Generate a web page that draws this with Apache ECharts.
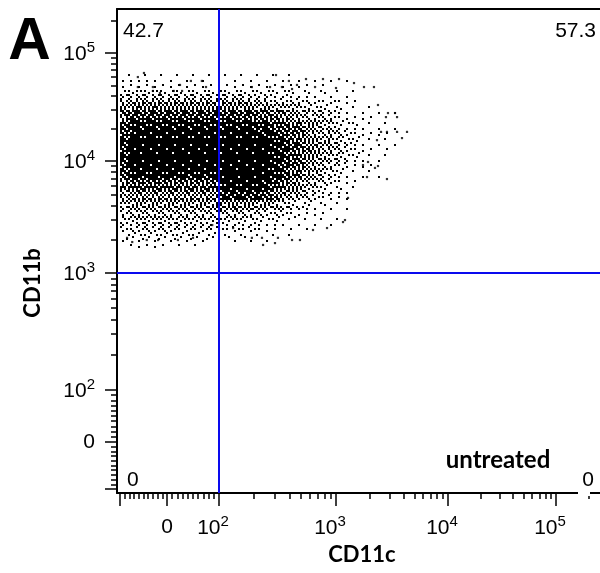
<!DOCTYPE html>
<html><head><meta charset="utf-8">
<script src="https://cdn.jsdelivr.net/npm/echarts@6/dist/echarts.min.js"></script>
<style>html,body{margin:0;padding:0;background:#fff}#c{width:600px;height:573px}</style>
</head><body><div id="c"></div>
<script>
// ---------- DATA ----------
const panelLetter = 'A';
const sampleLabel = 'untreated';
const xTitle = 'CD11c';
const yTitle = 'CD11b';
const quadrantPercents = ['42.7', '57.3', '0', '0']; // UL, UR, LL, LR
const gateCD11c = 100;
const gateCD11b = 1000;

// sparse individual events (raw intensities)
const cd11cEvents = [-62,-49,-62,-30,-30,-15,13,25,29,46,67,75,191,307,554,774,1064,396,273,345,464,421,662,1000,1448,1778,2183,2371,2911,2793,3365,3508,3508,3884,4306,2524,2851,2322,2851,2371,2229,1931,1742,1892,1280,1203,1155,838,636,492,421,319,301,238,-85,-74,-43,-19,21,50,87,132,191,233];
const cd11bEvents = [59900,65300,48400,48400,44500,42600,44500,50600,44500,55100,55100,48400,48400,62500,57400,57400,57400,55100,48400,48400,50600,46400,48400,47400,52700,48400,48400,33000,27800,25500,27800,25500,18600,16300,18600,18600,18600,15600,6900,9020,8670,9800,9200,7190,4680,2970,2850,2520,2420,1970,1970,2060,1850,1780,2060,1890,1970,1970,1970,2060,2680,2520,2060,2060];

// event density (fraction of area covered by events) on display-channel bins
const densityCD11cChannels = [-42,-32,-22,-12,-2,8,18,28,38,48,58,68,78,88,98,108,118,128,138,148,158,168,178,188,198,208,218,228,238];
const densityCD11bChannels = [367,357,347,337,327,317,307,297,287,277,267,257,247,237,227,217,207,197];
const densityRows = [
 [.03,.04,.04,.04,.03,.03,.03,.03,.03,.03,.03,.03,.03,.03,.03,.03,.03,.03,.02,.02,.01,0,0,0,0,0,0,0,0],
 [.08,.1,.1,.1,.08,.08,.08,.08,.08,.08,.08,.08,.08,.08,.08,.07,.07,.06,.05,.04,.04,.03,.02,0,0,0,0,0,0],
 [.25,.3,.3,.3,.28,.28,.28,.28,.28,.28,.28,.28,.26,.24,.22,.2,.18,.15,.12,.1,.08,.06,.04,.03,0,0,0,0,0],
 [.45,.55,.55,.55,.52,.52,.52,.52,.52,.52,.52,.5,.48,.45,.42,.38,.34,.3,.25,.2,.16,.12,.08,.05,.04,.03,.02,0,0],
 [.6,.72,.72,.72,.72,.72,.72,.72,.72,.72,.72,.72,.7,.66,.62,.58,.52,.45,.38,.3,.25,.18,.12,.08,.06,.04,.03,.02,0],
 [.7,.85,.85,.85,.85,.85,.85,.85,.85,.85,.85,.85,.85,.82,.78,.72,.66,.58,.48,.4,.32,.24,.17,.11,.08,.05,.04,.03,.02],
 [.75,.9,.92,.92,.92,.92,.92,.92,.92,.92,.92,.92,.92,.9,.87,.82,.75,.65,.55,.45,.38,.28,.2,.13,.09,.06,.05,.03,.02],
 [.78,.95,.95,.95,.95,.95,.95,.95,.95,.95,.95,.95,.95,.95,.93,.88,.8,.7,.58,.48,.4,.3,.22,.15,.1,.06,.04,.02,0],
 [.78,.95,.95,.95,.95,.95,.95,.95,.95,.95,.96,.96,.96,.96,.94,.88,.8,.7,.58,.48,.38,.28,.2,.13,.08,.05,.03,.01,0],
 [.76,.93,.95,.95,.95,.95,.95,.95,.95,.95,.96,.96,.96,.96,.94,.88,.78,.66,.54,.43,.33,.24,.16,.1,.06,.04,.02,0,0],
 [.68,.85,.88,.88,.88,.86,.85,.85,.85,.88,.95,.96,.96,.95,.92,.84,.74,.6,.48,.38,.28,.2,.13,.07,.04,.02,0,0,0],
 [.55,.68,.68,.68,.68,.66,.66,.66,.66,.7,.9,.92,.92,.9,.85,.75,.62,.48,.38,.3,.22,.15,.09,.05,.02,0,0,0,0],
 [.42,.52,.52,.52,.52,.5,.5,.5,.5,.55,.78,.82,.82,.76,.68,.56,.45,.36,.28,.21,.15,.1,.06,.03,0,0,0,0,0],
 [.33,.42,.42,.42,.42,.4,.4,.4,.4,.4,.5,.52,.5,.45,.4,.34,.28,.22,.16,.12,.08,.05,.03,0,0,0,0,0,0],
 [.26,.33,.33,.33,.33,.32,.32,.32,.3,.3,.3,.3,.28,.25,.22,.2,.16,.13,.1,.07,.05,.03,.02,0,0,0,0,0,0],
 [.2,.26,.26,.26,.26,.25,.25,.24,.22,.2,.18,.18,.16,.14,.12,.1,.08,.06,.05,.04,.03,.02,0,0,0,0,0,0,0],
 [.14,.18,.18,.18,.18,.17,.17,.16,.14,.12,.1,.1,.09,.07,.06,.05,.04,.03,.02,.01,0,0,0,0,0,0,0,0,0],
 [.04,.06,.06,.06,.06,.05,.05,.04,.03,.03,.02,.02,.02,.02,.01,0,0,0,0,0,0,0,0,0,0,0,0,0,0]
];

// axis ticks (raw values)
const majorTicks = [-100, 0, 100, 1000, 10000, 100000];
const labelledTicks = [0, 100, 1000, 10000, 100000];
const minorTicks = [-90,-80,-70,-60,-50,-40,-30,-20,-10,10,20,30,40,50,60,70,80,90,
  200,300,400,500,600,700,800,900,2000,3000,4000,5000,6000,7000,8000,9000,
  20000,30000,40000,50000,60000,70000,80000,90000,200000];

// ---------- biexponential display scale ----------
const logAnchors = [[2,52],[3,169],[4,281],[5,389],[6,497]];
function T(v){
  if (v <= 0) return v * 0.47;
  if (v <= 100) return v * 0.52;
  const l = Math.log10(v);
  for (let i = 0; i < logAnchors.length - 1; i++){
    const a = logAnchors[i], b = logAnchors[i+1];
    if (l <= b[0]) return a[1] + (l - a[0]) * (b[1] - a[1]) / (b[0] - a[0]);
  }
  return logAnchors[logAnchors.length-1][1];
}
const X_MIN = -50, X_MAX = 433, Y_MIN = -51, Y_MAX = 433;

function labelFmt(val){
  let best = null, bd = 1e9;
  labelledTicks.forEach(t => { const d = Math.abs(T(t) - val); if (d < bd){ bd = d; best = t; } });
  if (best === 0) return '{z|0}';
  return '{b|10}{s|' + Math.round(Math.log10(best)) + '}';
}
const FONT = '"Liberation Sans", Arial, sans-serif';
const rich = {
  z: {fontSize: 21, fontFamily: FONT, color: '#000', lineHeight: 24},
  b: {fontSize: 21, fontFamily: FONT, color: '#000', verticalAlign: 'bottom', lineHeight: 24},
  s: {fontSize: 15, fontFamily: FONT, color: '#000', verticalAlign: 'bottom', lineHeight: 24, padding: [0, 0, 10, 0]}
};
const richX = Object.assign({}, rich, {s: Object.assign({}, rich.s, {padding: [0, 12, 10, 0]})});

function baseAxis(min, max, pos){
  return {type: 'value', min: min, max: max, position: pos, scale: true,
    splitLine: {show: false},
    axisLine: {show: false, onZero: false},
    axisTick: {show: false},
    axisLabel: {show: false}};
}

const xMajor = baseAxis(X_MIN, X_MAX, 'bottom');
xMajor.axisLine = {show: true, onZero: false, lineStyle: {color: '#000', width: 2}};
xMajor.axisTick = {show: true, customValues: majorTicks.map(T), length: 13, lineStyle: {color: '#000', width: 1.5}};
xMajor.axisLabel = {show: true, customValues: labelledTicks.map(T), formatter: labelFmt, margin: 22,
  fontSize: 21, fontFamily: FONT, rich: richX, color: '#000'};
const xMinor = baseAxis(X_MIN, X_MAX, 'bottom');
xMinor.axisTick = {show: true, customValues: minorTicks.map(T), length: 6, lineStyle: {color: '#000', width: 1.5}};
const xTop = baseAxis(X_MIN, X_MAX, 'top');
xTop.axisLine = {show: true, onZero: false, lineStyle: {color: '#000', width: 2}};

const yMajor = baseAxis(Y_MIN, Y_MAX, 'left');
yMajor.axisLine = {show: true, onZero: false, lineStyle: {color: '#000', width: 2}};
yMajor.axisTick = {show: true, customValues: majorTicks.map(T), length: 12, lineStyle: {color: '#000', width: 1.5}};
yMajor.axisLabel = {show: true, customValues: labelledTicks.map(T), formatter: labelFmt, margin: 22,
  fontSize: 21, fontFamily: FONT, rich: rich, color: '#000'};
const yMinor = baseAxis(Y_MIN, Y_MAX, 'left');
yMinor.axisTick = {show: true, customValues: minorTicks.map(T), length: 6, lineStyle: {color: '#000', width: 1.5}};

// ---------- stipple fill (style): threshold matrix for 2px event dots ----------
const STIPPLE = [
 [37,5,52,19,44,0,28,61],
 [13,58,26,40,9,55,17,33],
 [48,2,35,63,22,38,50,6],
 [24,45,11,30,57,3,42,29],
 [60,16,53,7,47,14,62,20],
 [1,39,27,43,18,34,10,51],
 [32,56,4,59,25,49,23,41],
 [15,46,21,36,12,31,54,8]
];
const patternCache = {};
function stipplePattern(d){
  const k = Math.max(0, Math.min(64, Math.round(d * 64)));
  if (patternCache[k]) return patternCache[k];
  const cv = document.createElement('canvas');
  cv.width = 16; cv.height = 16;
  const ctx = cv.getContext('2d');
  ctx.fillStyle = '#000';
  for (let i = 0; i < 8; i++) for (let j = 0; j < 8; j++) {
    if (STIPPLE[i][j] < k) ctx.fillRect(j * 2, i * 2, 2, 2);
  }
  patternCache[k] = {image: cv, repeat: 'repeat'};
  return patternCache[k];
}

// ---------- series data ----------
const densityData = [];
densityRows.forEach((row, r) => row.forEach((d, c) => {
  if (d > 0) densityData.push([densityCD11cChannels[c], densityCD11bChannels[r], d]);
}));
const eventData = cd11cEvents.map((v, i) => [T(v), T(cd11bEvents[i])]);

const chart = echarts.init(document.getElementById('c'), null, {renderer: 'canvas'});
chart.setOption({
  animation: false,
  backgroundColor: '#fff',
  grid: {left: 117, right: 0, top: 9, bottom: 80, containLabel: false},
  xAxis: [xMajor, xMinor, xTop],
  yAxis: [yMajor, yMinor],
  series: [
    {
      type: 'custom', xAxisIndex: 0, yAxisIndex: 0, clip: true, silent: true,
      data: densityData,
      renderItem: function(params, api){
        const x = api.value(0), y = api.value(1), d = api.value(2);
        const p0 = api.coord([x - 5, y + 5]);
        const p1 = api.coord([x + 5, y - 5]);
        return {type: 'rect', shape: {x: Math.round(p0[0]), y: Math.round(p0[1]),
            width: Math.round(p1[0]) - Math.round(p0[0]), height: Math.round(p1[1]) - Math.round(p0[1])},
          style: {fill: stipplePattern(d)}};
      }
    },
    {
      type: 'scatter', xAxisIndex: 0, yAxisIndex: 0, silent: true,
      symbol: 'rect', symbolSize: 2.2,
      itemStyle: {color: '#000'},
      data: eventData,
      markLine: {
        silent: true, symbol: 'none', animation: false,
        label: {show: false},
        lineStyle: {color: '#0a0aee', width: 2, type: 'solid'},
        data: [{xAxis: T(gateCD11c)}, {yAxis: T(gateCD11b)}]
      }
    }
  ],
  graphic: [
    {type: 'text', x: 29, y: 42, scaleX: 0.98, originX: 29, style: {text: panelLetter, font: 'bold 60px ' + FONT, fill: '#000', align: 'center', verticalAlign: 'middle'}},
    {type: 'text', x: 123, y: 31, style: {text: quadrantPercents[0], font: '21px ' + FONT, fill: '#000', align: 'left', verticalAlign: 'middle'}},
    {type: 'text', x: 596, y: 31, style: {text: quadrantPercents[1], font: '21px ' + FONT, fill: '#000', align: 'right', verticalAlign: 'middle'}},
    {type: 'text', x: 127, y: 480, style: {text: quadrantPercents[2], font: '21px ' + FONT, fill: '#000', align: 'left', verticalAlign: 'middle'}},
    {type: 'rect', shape: {x: 578, y: 488, width: 12, height: 8}, style: {fill: '#fff'}, z: 100},
    {type: 'text', x: 594, y: 480, z: 101, style: {text: quadrantPercents[3], font: '21px ' + FONT, fill: '#000', align: 'right', verticalAlign: 'middle'}},
    {type: 'text', x: 498, y: 460, style: {text: sampleLabel, font: 'bold 24px Lato, "Open Sans", sans-serif', fill: '#000', align: 'center', verticalAlign: 'middle'}},
    {type: 'text', x: 362, y: 555, style: {text: xTitle, font: 'bold 22px Lato, "Open Sans", sans-serif', fill: '#000', align: 'center', verticalAlign: 'middle'}},
    {type: 'text', x: 33, y: 283, rotation: Math.PI / 2, style: {text: yTitle, font: 'bold 22px Lato, "Open Sans", sans-serif', fill: '#000', align: 'center', verticalAlign: 'middle'}}
  ]
});
</script>
</body></html>
